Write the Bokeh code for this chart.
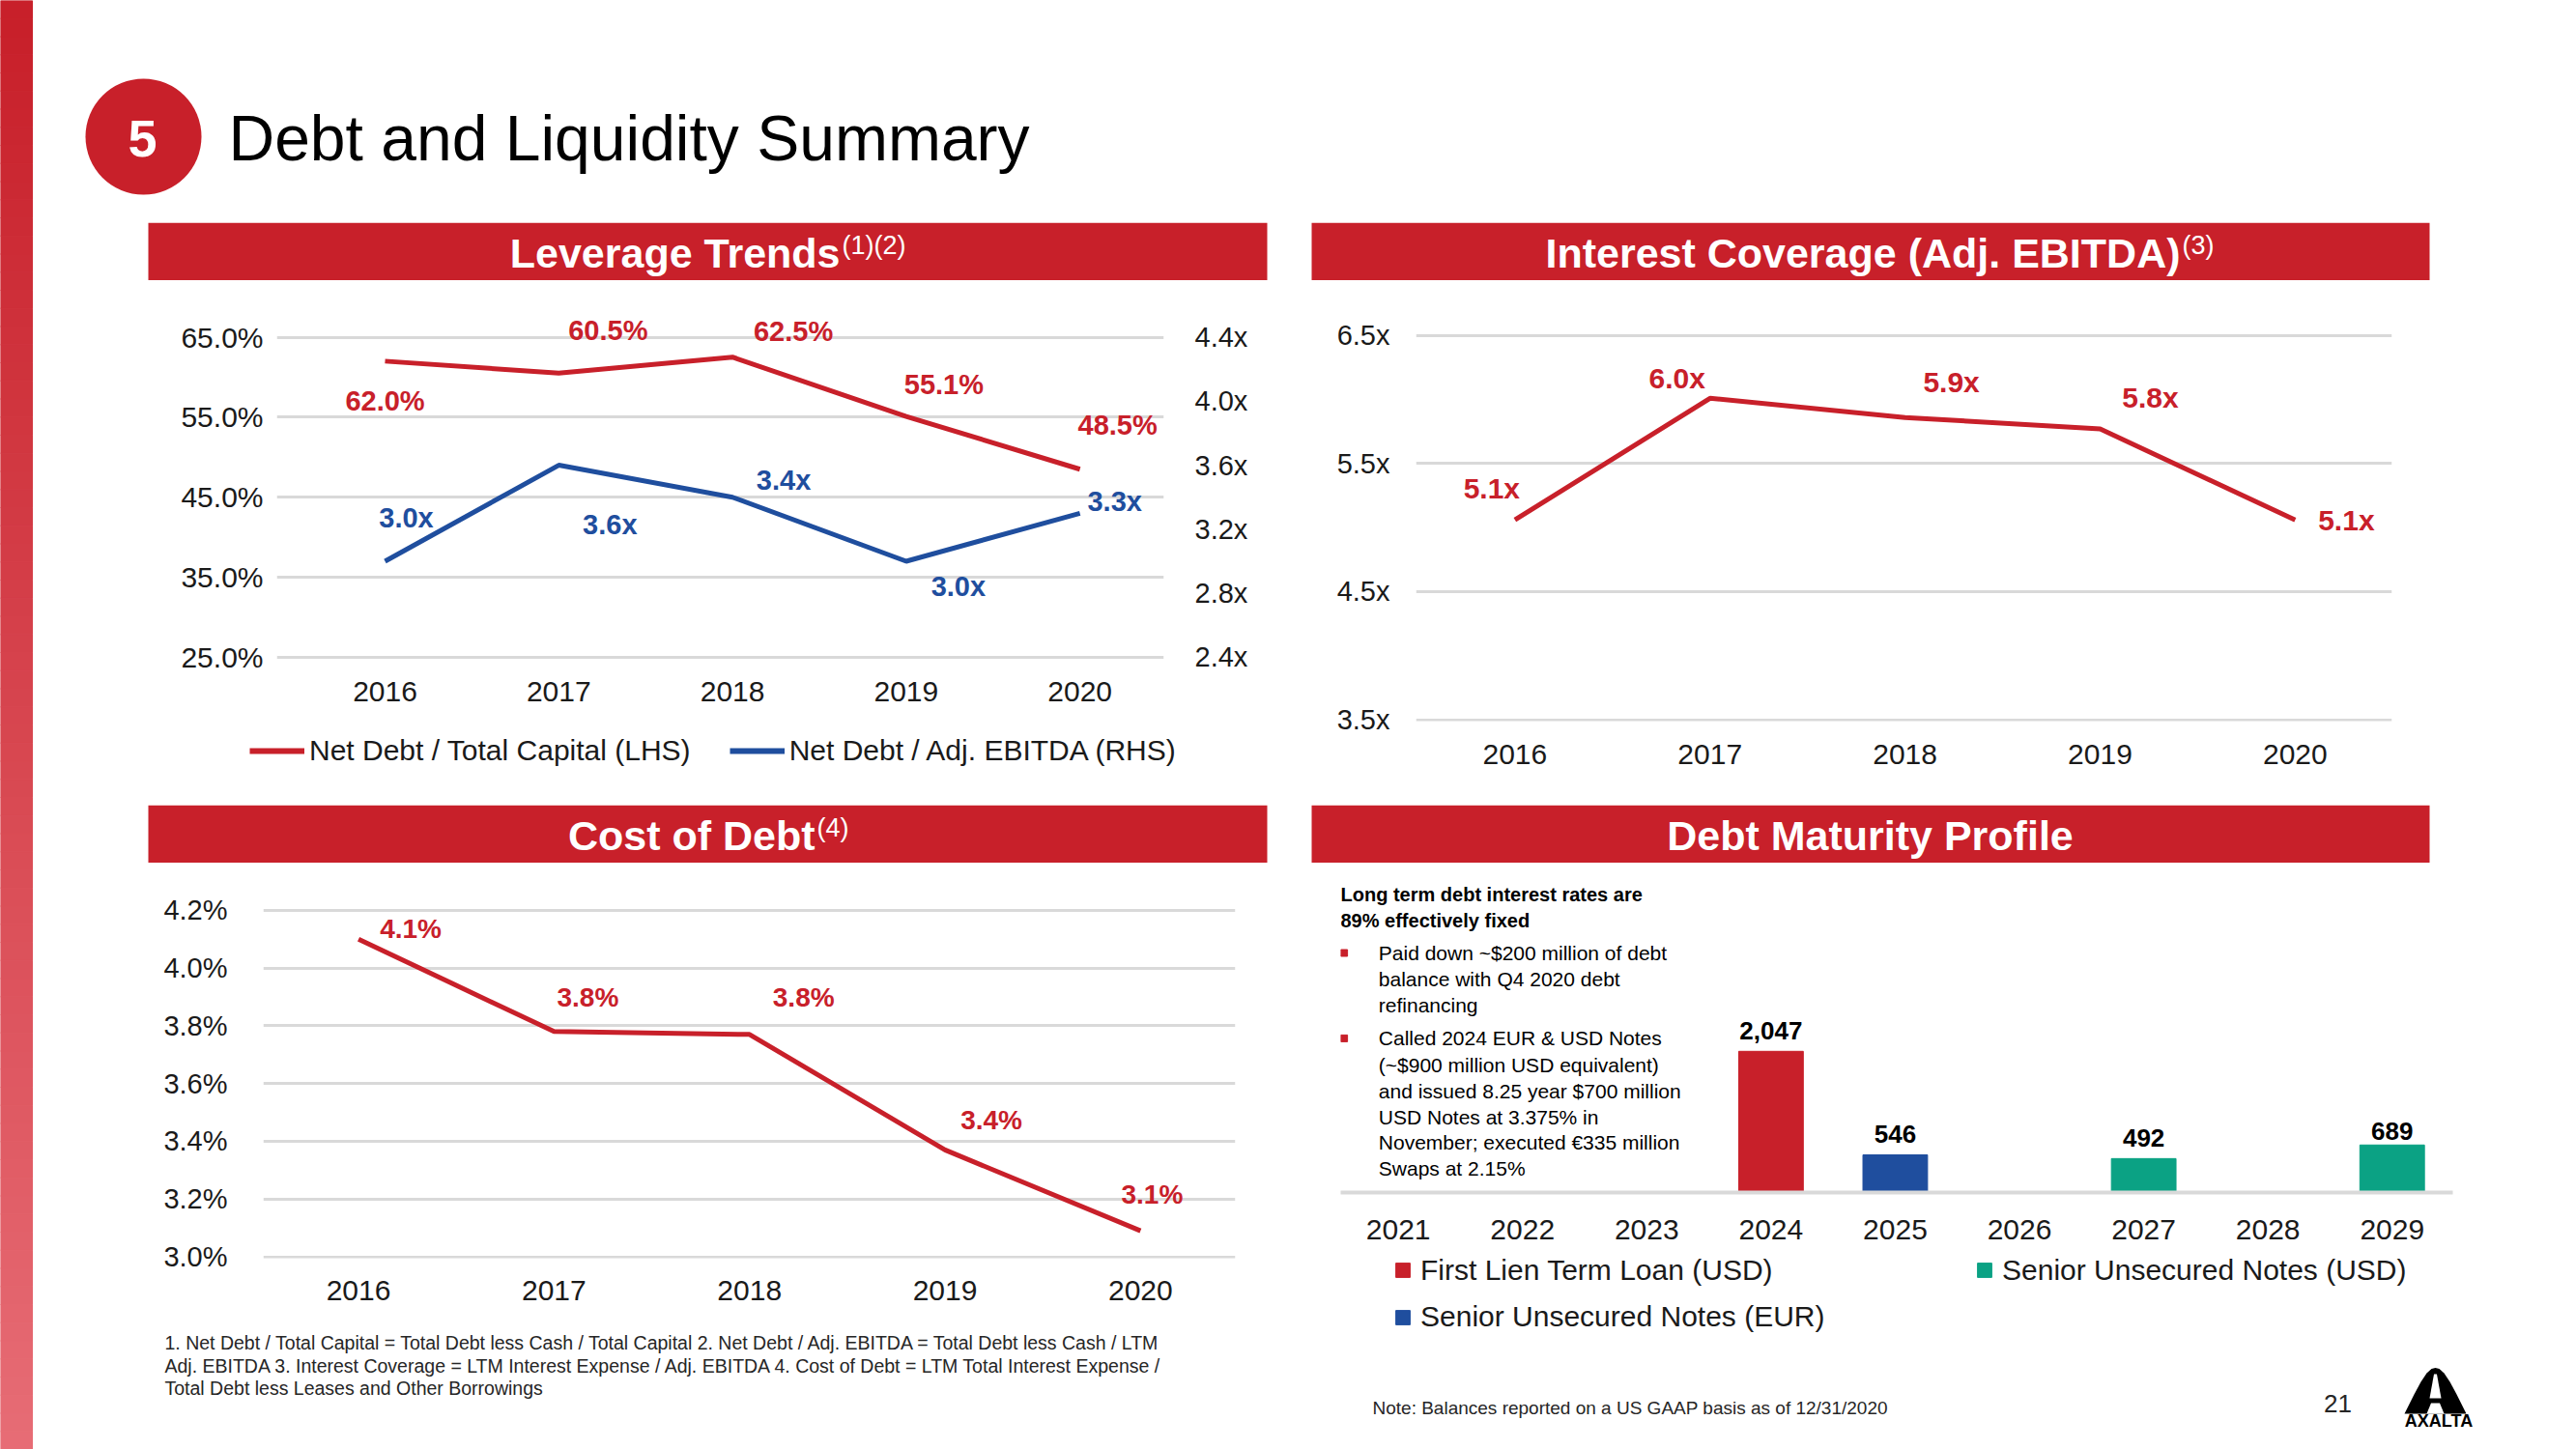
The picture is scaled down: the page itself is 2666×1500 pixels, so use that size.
import numpy as np
from bokeh.plotting import figure
from bokeh.models import (Range1d, LinearAxis, FixedTicker, PrintfTickFormatter,
                          Legend, LegendItem, ColumnDataSource)
from bokeh.layouts import row, column
from bokeh.embed import file_html
from bokeh.resources import INLINE
from bokeh.core.properties import value

# ---------------- data ----------------
years = [2016, 2017, 2018, 2019, 2020]
net_debt_to_total_capital = [62.0, 60.5, 62.5, 55.1, 48.5]     # % (LHS)
net_debt_to_adj_ebitda = [3.0, 3.6, 3.4, 3.0, 3.3]            # x (RHS)
interest_coverage = [5.06, 6.01, 5.86, 5.77, 5.06]             # x
cost_of_debt = [4.10, 3.78, 3.77, 3.37, 3.09]                  # %

lev_left_ticks = [25, 35, 45, 55, 65]
lev_right_ticks = [2.4, 2.8, 3.2, 3.6, 4.0, 4.4]
ic_ticks = [3.5, 4.5, 5.5, 6.5]
cod_ticks = [3.0, 3.2, 3.4, 3.6, 3.8, 4.0, 4.2]

maturity_years = [2021, 2022, 2023, 2024, 2025, 2026, 2027, 2028, 2029]
first_lien_term_loan_usd = [0, 0, 0, 2047, 0, 0, 0, 0, 0]
senior_notes_eur = [0, 0, 0, 0, 546, 0, 0, 0, 0]
senior_notes_usd = [0, 0, 0, 0, 0, 0, 492, 0, 689]

# ---------------- styles ----------------
RED = "#C8202A"
BLUE = "#1F4E9E"
GREEN = "#0BA284"
GRID = "#D9D9D9"
TXT = "#1A1A1A"
FONT = "Liberation Sans"


def deco_fig(w, h):
    p = figure(width=w, height=h, x_range=Range1d(0, w), y_range=Range1d(h, 0),
               output_backend="svg", toolbar_location=None, tools="",
               x_axis_location=None, y_axis_location=None, min_border=0,
               frame_align=False)
    p.grid.visible = False
    p.outline_line_color = None
    p.background_fill_color = "white"
    p.border_fill_color = "white"
    return p


def chart_fig(w, h, xr, yr, left, right, top, bottom):
    p = figure(width=w, height=h, x_range=Range1d(*xr), y_range=Range1d(*yr),
               output_backend="svg", toolbar_location=None, tools="",
               min_border_left=left, min_border_right=right,
               min_border_top=top, min_border_bottom=bottom, frame_align=False)
    p.outline_line_color = None
    p.background_fill_color = "white"
    p.border_fill_color = "white"
    p.xgrid.visible = False
    return p


def style_axis(ax, size, standoff):
    ax.axis_line_color = None
    ax.major_tick_line_color = None
    ax.minor_tick_line_color = None
    ax.major_tick_out = 0
    ax.major_tick_in = 0
    ax.major_label_text_font = FONT
    ax.major_label_text_font_size = f"{size}px"
    ax.major_label_text_color = TXT
    ax.major_label_standoff = standoff


def labels(p, xs, ys, texts, dx, dy, color, size, **kw):
    src = ColumnDataSource(dict(x=xs, y=ys, t=texts, dx=dx, dy=dy))
    p.text(x="x", y="y", text="t", x_offset="dx", y_offset="dy", source=src,
           text_align="center", text_baseline="middle", text_color=color,
           text_font=value(FONT), text_font_size=f"{size}px",
           text_font_style="bold", **kw)


def legend(items, **kw):
    base = dict(padding=0, margin=0, border_line_color=None, background_fill_alpha=0,
                label_text_font=FONT, label_text_color=TXT, orientation="horizontal")
    base.update(kw)
    return Legend(items=[LegendItem(label=l, renderers=[r]) for l, r in items], **base)


# ---------------- left gradient bar ----------------
bar = deco_fig(34, 1500)
n = 80
c0 = np.array([200, 32, 42])
c1 = np.array([231, 108, 117])
edges = np.linspace(0, 1500, n + 1)
cols = ["#%02x%02x%02x" % tuple((c0 + (c1 - c0) * t).astype(int)) for t in np.linspace(0, 1, n)]
bar.quad(left=0, right=33, top=edges[:-1], bottom=edges[1:], fill_color=cols,
         line_color=cols, line_width=1)

# ---------------- title ----------------
tf = deco_fig(2632, 230)
tf.circle(x=[114], y=[141], radius=60, fill_color=RED, line_color=None)
tf.text(x=[113], y=[143], text=["5"], text_align="center", text_baseline="middle",
        text_color="white", text_font=value(FONT), text_font_size="54px",
        text_font_style="bold")
tf.text(x=[202], y=[142], text=["Debt and Liquidity Summary"], text_align="left",
        text_baseline="middle", text_color="black", text_font=value(FONT),
        text_font_size="66px")


def header(w, x0, x1, main, sup, anchor):
    h = deco_fig(w, 60)
    h.quad(left=x0, right=x1, top=0, bottom=59.5, fill_color=RED, line_color=None)
    if sup:
        h.text(x=[anchor], y=[31], text=[main], text_align="right", text_baseline="middle",
               text_color="white", text_font=value(FONT), text_font_size="43px",
               text_font_style="bold")
        h.text(x=[anchor + 2], y=[23], text=[sup], text_align="left", text_baseline="middle",
               text_color="white", text_font=value(FONT), text_font_size="27px")
    else:
        h.text(x=[anchor], y=[31], text=[main], text_align="center", text_baseline="middle",
               text_color="white", text_font=value(FONT), text_font_size="43px",
               text_font_style="bold")
    return h


hdr1 = header(1306, 119, 1277, "Leverage Trends", "(1)(2)", 835)
hdr2 = header(1326, 17, 1174, "Interest Coverage (Adj. EBITDA)", "(3)", 916)
hdr3 = header(1306, 119, 1277, "Cost of Debt", "(4)", 809)
hdr4 = header(1326, 17, 1174, "Debt Maturity Profile", None, 595)

# ---------------- Leverage Trends ----------------
lev = chart_fig(1306, 455, (2015.377, 2020.483), (22.59, 68.44), 252, 136, 30, 45)
lev.extra_y_ranges = {"rhs": Range1d(2.279, 4.572)}
lev.yaxis.ticker = FixedTicker(ticks=lev_left_ticks)
lev.yaxis.formatter = PrintfTickFormatter(format="%.1f%%")
lev.ygrid.ticker = FixedTicker(ticks=lev_left_ticks)
lev.ygrid.grid_line_color = GRID
lev.ygrid.grid_line_width = 3
lev.xaxis.ticker = FixedTicker(ticks=years)
style_axis(lev.yaxis[0], 30, 14)
style_axis(lev.xaxis[0], 30, 5)
rax = LinearAxis(y_range_name="rhs", ticker=FixedTicker(ticks=lev_right_ticks),
                 formatter=PrintfTickFormatter(format="%.1fx"))
style_axis(rax, 29, 32)
lev.add_layout(rax, "right")
lev.line(years, net_debt_to_total_capital, color=RED, line_width=5)
lev.line(years, net_debt_to_adj_ebitda, color=BLUE, line_width=5, y_range_name="rhs")
labels(lev, years, net_debt_to_total_capital, [f"{v:.1f}%" for v in net_debt_to_total_capital],
       [0, 51, 63, 39, 39], [41.5, -44, -27, -33, -46], RED, 29)
labels(lev, years, net_debt_to_adj_ebitda, [f"{v:.1f}x" for v in net_debt_to_adj_ebitda],
       [22, 53, 53, 54, 36], [-45, 61, -18, 26, -12], BLUE, 29, y_range_name="rhs")

# legend strip for the leverage chart (key glyphs sit outside the visible range)
lev_leg = deco_fig(1306, 88)
k1 = lev_leg.line(x=[-30, -20], y=[-30, -30], color=RED, line_width=6)
k2 = lev_leg.line(x=[-30, -20], y=[-30, -30], color=BLUE, line_width=6)
lev_leg.add_layout(legend([("Net Debt / Total Capital (LHS)", k1),
                           ("Net Debt / Adj. EBITDA (RHS)", k2)],
                          location=(224, 39), glyph_width=57, glyph_height=34, label_height=34,
                          label_standoff=5, spacing=40, label_text_font_size="30px"), "center")

# ---------------- Interest Coverage ----------------
ic = chart_fig(1326, 543, (2015.493, 2020.496), (3.489, 6.589), 125, 191, 45, 87)
ic.yaxis.ticker = FixedTicker(ticks=ic_ticks)
ic.yaxis.formatter = PrintfTickFormatter(format="%.1fx")
ic.ygrid.ticker = FixedTicker(ticks=ic_ticks)
ic.ygrid.grid_line_color = GRID
ic.ygrid.grid_line_width = 3
ic.xaxis.ticker = FixedTicker(ticks=years)
style_axis(ic.yaxis[0], 29, 27)
style_axis(ic.xaxis[0], 30, 24)
ic.line(years, interest_coverage, color=RED, line_width=5)
labels(ic, years, interest_coverage, [f"{v:.1f}x" for v in interest_coverage],
       [-24, -34, 48, 52, 53], [-33, -21, -37, -33, 0], RED, 30)

# ---------------- Cost of Debt ----------------
cod = chart_fig(1306, 472, (2015.513, 2020.485), (2.995, 4.2395), 238, 62, 37, 63)
cod.yaxis.ticker = FixedTicker(ticks=cod_ticks)
cod.yaxis.formatter = PrintfTickFormatter(format="%.1f%%")
cod.ygrid.ticker = FixedTicker(ticks=cod_ticks)
cod.ygrid.grid_line_color = GRID
cod.ygrid.grid_line_width = 3
cod.xaxis.ticker = FixedTicker(ticks=years)
style_axis(cod.yaxis[0], 29, 37)
style_axis(cod.xaxis[0], 30, 23)
cod.line(years, cost_of_debt, color=RED, line_width=5)
labels(cod, years, cost_of_debt, [f"{v:.1f}%" for v in cost_of_debt],
       [54, 35, 56, 48, 12], [-11, -35, -38, -31, -38], RED, 28)

# ---------------- footnotes ----------------
foot = deco_fig(1306, 135)
foot_lines = [
    "1. Net Debt / Total Capital = Total Debt less Cash / Total Capital  2. Net Debt / Adj. EBITDA = Total Debt less Cash / LTM",
    "Adj. EBITDA  3. Interest Coverage = LTM Interest Expense / Adj. EBITDA 4. Cost of Debt = LTM Total Interest Expense /",
    "Total Debt less Leases and Other Borrowings",
]
foot.text(x=[136, 136, 136], y=[24, 48, 71], text=foot_lines, text_align="left",
          text_baseline="middle", text_color="#262626", text_font=value(FONT),
          text_font_size="19.5px")

# ---------------- Debt Maturity Profile ----------------
mat = chart_fig(1326, 403, (2020.536, 2029.488), (0, 4495), 47, 128, 20, 62)
mat.yaxis.visible = False
mat.ygrid.visible = False
mat.xaxis.ticker = FixedTicker(ticks=maturity_years)
style_axis(mat.xaxis[0], 30, 28)
mat.xaxis.axis_line_color = GRID
mat.xaxis.axis_line_width = 4
mat.vbar(x=maturity_years, top=first_lien_term_loan_usd, width=0.52, color=RED)
mat.vbar(x=maturity_years, top=senior_notes_eur, width=0.52, color=BLUE)
mat.vbar(x=maturity_years, top=senior_notes_usd, width=0.52, color=GREEN)
tot = [a + b + c for a, b, c in zip(first_lien_term_loan_usd, senior_notes_eur, senior_notes_usd)]
bx = [y for y, t in zip(maturity_years, tot) if t > 0]
bt = [t for t in tot if t > 0]
src_b = ColumnDataSource(dict(x=bx, y=bt, t=[f"{v:,}" for v in bt], dy=[-21, -22, -21, -14]))
mat.text(x="x", y="y", text="t", y_offset="dy", source=src_b, text_align="center",
         text_baseline="middle", text_color="black", text_font=value(FONT),
         text_font_size="26px", text_font_style="bold")

mat.extra_x_ranges = {"px": Range1d(0, 1151)}
mat.extra_y_ranges = {"px": Range1d(321, 0)}
mat.text(x=[0, 0], y=[12, 39], text=["Long term debt interest rates are", "89% effectively fixed"],
         x_range_name="px", y_range_name="px", text_align="left", text_baseline="middle",
         text_color="black", text_font=value(FONT), text_font_size="20px", text_font_style="bold")
mat.scatter(x=[3.6, 3.6], y=[73, 161.4], marker="square", size=7, color=RED,
            x_range_name="px", y_range_name="px")
bullet_lines = ["Paid down ~$200 million of debt", "balance with Q4 2020 debt", "refinancing",
                "Called 2024 EUR & USD Notes", "(~$900 million USD equivalent)",
                "and issued 8.25 year $700 million", "USD Notes at 3.375% in",
                "November; executed \u20ac335 million", "Swaps at 2.15%"]
mat.text(x=[39.3] * 9, y=[73, 100, 127.4, 161.4, 188.6, 215.8, 243, 268.5, 295.7],
         text=bullet_lines, x_range_name="px", y_range_name="px", text_align="left",
         text_baseline="middle", text_color="black", text_font=value(FONT), text_font_size="21px")

# legend strip for the maturity chart (key glyphs sit outside the visible range)
mat_leg = deco_fig(1326, 99)
m1 = mat_leg.scatter(x=[-50], y=[-50], marker="square", size=15, color=RED)
m2 = mat_leg.scatter(x=[-50], y=[-50], marker="square", size=15, color=BLUE)
m3 = mat_leg.scatter(x=[-50], y=[-50], marker="square", size=15, color=GREEN)
mat_leg.add_layout(legend([("First Lien Term Loan (USD)", m1), ("Senior Unsecured Notes (USD)", m3)],
                          location=(93, 62), glyph_width=37, glyph_height=37, label_height=34,
                          label_standoff=0, label_width=430, spacing=135,
                          label_text_font_size="30px"), "center")
mat_leg.add_layout(legend([("Senior Unsecured Notes (EUR)", m2)],
                          location=(93, 13.5), glyph_width=37, glyph_height=37,
                          label_height=34, label_standoff=0, label_text_font_size="30px"), "center")

# ---------------- bottom-right note, page number, logo ----------------
note = deco_fig(1326, 105)
note.text(x=[80], y=[62], text=["Note: Balances reported on a US GAAP basis as of 12/31/2020"],
          text_align="left", text_baseline="middle", text_color="#262626",
          text_font=value(FONT), text_font_size="19px")
note.text(x=[1079], y=[57], text=["21"], text_align="center", text_baseline="middle",
          text_color="#262626", text_font=value(FONT), text_font_size="26px")
note.patch(x=[1148, 1158, 1165, 1171, 1176, 1180, 1184, 1189, 1195, 1202, 1212],
           y=[68, 48, 35, 26, 21.5, 20.5, 21.5, 26, 35, 48, 68], fill_color="black", line_color=None)
note.patch(x=[1178.5, 1181.5, 1186, 1174], y=[27, 27, 52, 52], fill_color="white", line_color=None)
note.patch(x=[1171, 1175.5, 1184.5, 1189], y=[68, 57, 57, 68], fill_color="white", line_color=None)
note.text(x=[1183.5], y=[75], text=["AXALTA"], text_align="center", text_baseline="middle",
          text_color="black", text_font=value(FONT), text_font_size="18px", text_font_style="bold")

left_col = column(hdr1, lev, lev_leg, hdr3, cod, foot)
right_col = column(hdr2, ic, hdr4, mat, mat_leg, note)
layout = row(bar, column(tf, row(left_col, right_col)))

open("out.html", "w").write(file_html(layout, INLINE))
